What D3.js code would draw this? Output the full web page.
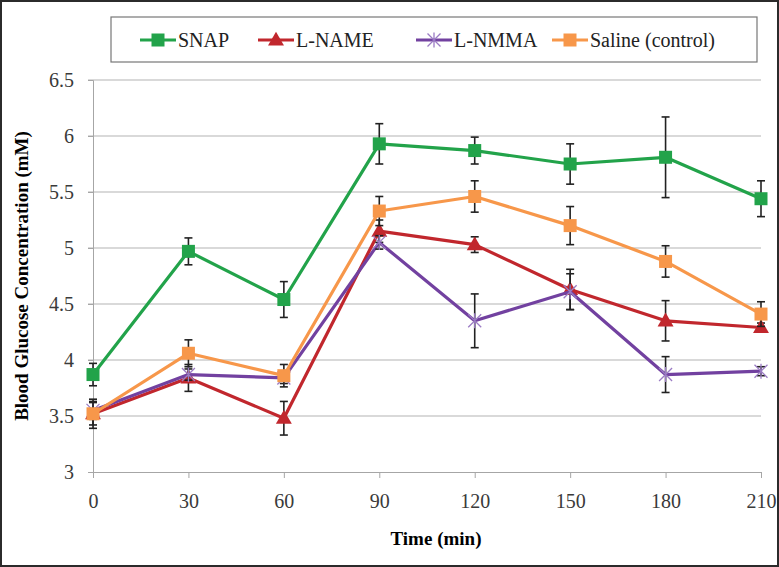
<!DOCTYPE html>
<html lang="en">
<head>
<meta charset="UTF-8">
<title>Blood Glucose Concentration</title>
<script src="https://d3js.org/d3.v7.min.js"></script>
<style>
  body { margin: 0; background: #fff; }
  svg { display: block; font-family: "Liberation Serif", "DejaVu Serif", serif; }
</style>
</head>
<body>
<svg id="chart" width="779" height="567"></svg>
<script>
// data
const times = [0, 30, 60, 90, 120, 150, 180, 210];
const seriesNames = ["SNAP", "L-NAME", "L-NMMA", "Saline (control)"];
const snapMean   = [3.87, 4.97, 4.54, 5.93, 5.87, 5.75, 5.81, 5.44];
const snapErr    = [0.10, 0.12, 0.16, 0.18, 0.12, 0.18, 0.36, 0.16];
const lnameMean  = [3.52, 3.84, 3.48, 5.15, 5.03, 4.63, 4.35, 4.29];
const lnameErr   = [0.13, 0.12, 0.15, 0.10, 0.07, 0.18, 0.18, 0.04];
const lnmmaMean  = [3.55, 3.87, 3.84, 5.05, 4.35, 4.61, 3.87, 3.90];
const lnmmaErr   = [0.08, 0.05, 0.05, 0.06, 0.24, 0.16, 0.16, 0.04];
const salineMean = [3.52, 4.06, 3.86, 5.33, 5.46, 5.20, 4.88, 4.41];
const salineErr  = [0.10, 0.12, 0.10, 0.13, 0.14, 0.17, 0.14, 0.11];
const yTicks = [3, 3.5, 4, 4.5, 5, 5.5, 6, 6.5];

const colors = ["#22a34a", "#c1272d", "#7241a0", "#f7974a"];
const shapes = ["square", "triangle", "star", "square"];
const means = [snapMean, lnameMean, lnmmaMean, salineMean];
const errs = [snapErr, lnameErr, lnmmaErr, salineErr];

const svg = d3.select("#chart");
const W = 779, H = 567;
const x = d3.scaleLinear().domain([0, 210]).range([93, 761]);
const y = d3.scaleLinear().domain([3, 6.5]).range([472, 80]);

// outer frame
svg.append("rect").attr("x", 1).attr("y", 1).attr("width", W - 2).attr("height", H - 2)
  .attr("fill", "#fff").attr("stroke", "#2b2b2b").attr("stroke-width", 2);

// gridlines
svg.append("g").selectAll("line").data(yTicks.slice(1)).join("line")
  .attr("x1", 88).attr("x2", x(210))
  .attr("y1", d => y(d)).attr("y2", d => y(d))
  .attr("stroke", "#b3b3b3").attr("stroke-width", 1);

// y axis
const yAxis = svg.append("g").attr("transform", `translate(${x(0)},0)`)
  .call(d3.axisLeft(y).tickValues(yTicks).tickSize(5).tickPadding(14).tickFormat(d => d));
yAxis.select(".domain").attr("stroke", "#a6a6a6");
yAxis.selectAll(".tick line").attr("stroke", "#a6a6a6");
yAxis.selectAll("text").attr("font-size", 20).attr("fill", "#3a3a3a")
  .attr("font-family", "Liberation Serif");

// x axis
const xAxis = svg.append("g").attr("transform", `translate(0,${y(3)})`)
  .call(d3.axisBottom(x).tickValues(times).tickSize(6).tickPadding(16).tickSizeOuter(0));
xAxis.select(".domain").attr("stroke", "#a6a6a6");
xAxis.selectAll(".tick line").attr("stroke", "#a6a6a6");
xAxis.selectAll("text").attr("font-size", 20).attr("fill", "#3a3a3a")
  .attr("font-family", "Liberation Serif");

// axis titles
svg.append("text").attr("x", 436).attr("y", 545).attr("text-anchor", "middle")
  .attr("font-size", 19).attr("font-weight", "bold").text("Time (min)");
svg.append("text").attr("transform", "translate(28,276) rotate(-90)")
  .attr("text-anchor", "middle").attr("font-size", 19).attr("font-weight", "bold")
  .text("Blood Glucose Concentration (mM)");

function drawMarker(g, shape, color, cx, cy) {
  if (shape === "square") {
    g.append("rect").attr("x", cx - 6.5).attr("y", cy - 6.5).attr("width", 13).attr("height", 13)
      .attr("fill", color);
  } else if (shape === "triangle") {
    g.append("path").attr("d", d3.symbol(d3.symbolTriangle, 110)()).attr("transform", `translate(${cx},${cy + 1})`)
      .attr("fill", color);
  } else {
    const r = 6.5;
    g.append("path")
      .attr("d", `M${cx - r},${cy - r}L${cx + r},${cy + r}M${cx - r},${cy + r}L${cx + r},${cy - r}M${cx},${cy - r - 1}L${cx},${cy + r + 1}`)
      .attr("stroke", "#9b7cc4").attr("stroke-width", 1.3).attr("fill", "none");
  }
}

const line = d3.line().x(d => x(d[0])).y(d => y(d[1]));

means.forEach((m, i) => {
  const g = svg.append("g");
  const pts = times.map((t, j) => [t, m[j], errs[i][j]]);
  g.append("path").datum(pts).attr("d", line).attr("fill", "none")
    .attr("stroke", colors[i]).attr("stroke-width", 3.2).attr("stroke-linejoin", "round");
  // error bars
  pts.forEach(p => {
    const cx = x(p[0]), y1 = y(p[1] - p[2]), y2 = y(p[1] + p[2]);
    g.append("line").attr("x1", cx).attr("x2", cx).attr("y1", y1).attr("y2", y2)
      .attr("stroke", "#222").attr("stroke-width", 1.6);
    [y1, y2].forEach(yy => g.append("line").attr("x1", cx - 4).attr("x2", cx + 4)
      .attr("y1", yy).attr("y2", yy).attr("stroke", "#222").attr("stroke-width", 1.6));
  });
  pts.forEach(p => drawMarker(g, shapes[i], colors[i], x(p[0]), y(p[1])));
});

// legend
svg.append("rect").attr("x", 111).attr("y", 17).attr("width", 646).attr("height", 45)
  .attr("fill", "#fff").attr("stroke", "#777").attr("stroke-width", 1.2);
const legX = [140, 258, 416, 552];
seriesNames.forEach((name, i) => {
  const g = svg.append("g");
  const cy = 40;
  g.append("line").attr("x1", legX[i]).attr("x2", legX[i] + 36).attr("y1", cy).attr("y2", cy)
    .attr("stroke", colors[i]).attr("stroke-width", 3.2);
  drawMarker(g, shapes[i], colors[i], legX[i] + 18, cy);
  g.append("text").attr("x", legX[i] + 38).attr("y", cy + 7).attr("font-size", 20)
    .attr("fill", "#222").text(name);
});
</script>
</body>
</html>
